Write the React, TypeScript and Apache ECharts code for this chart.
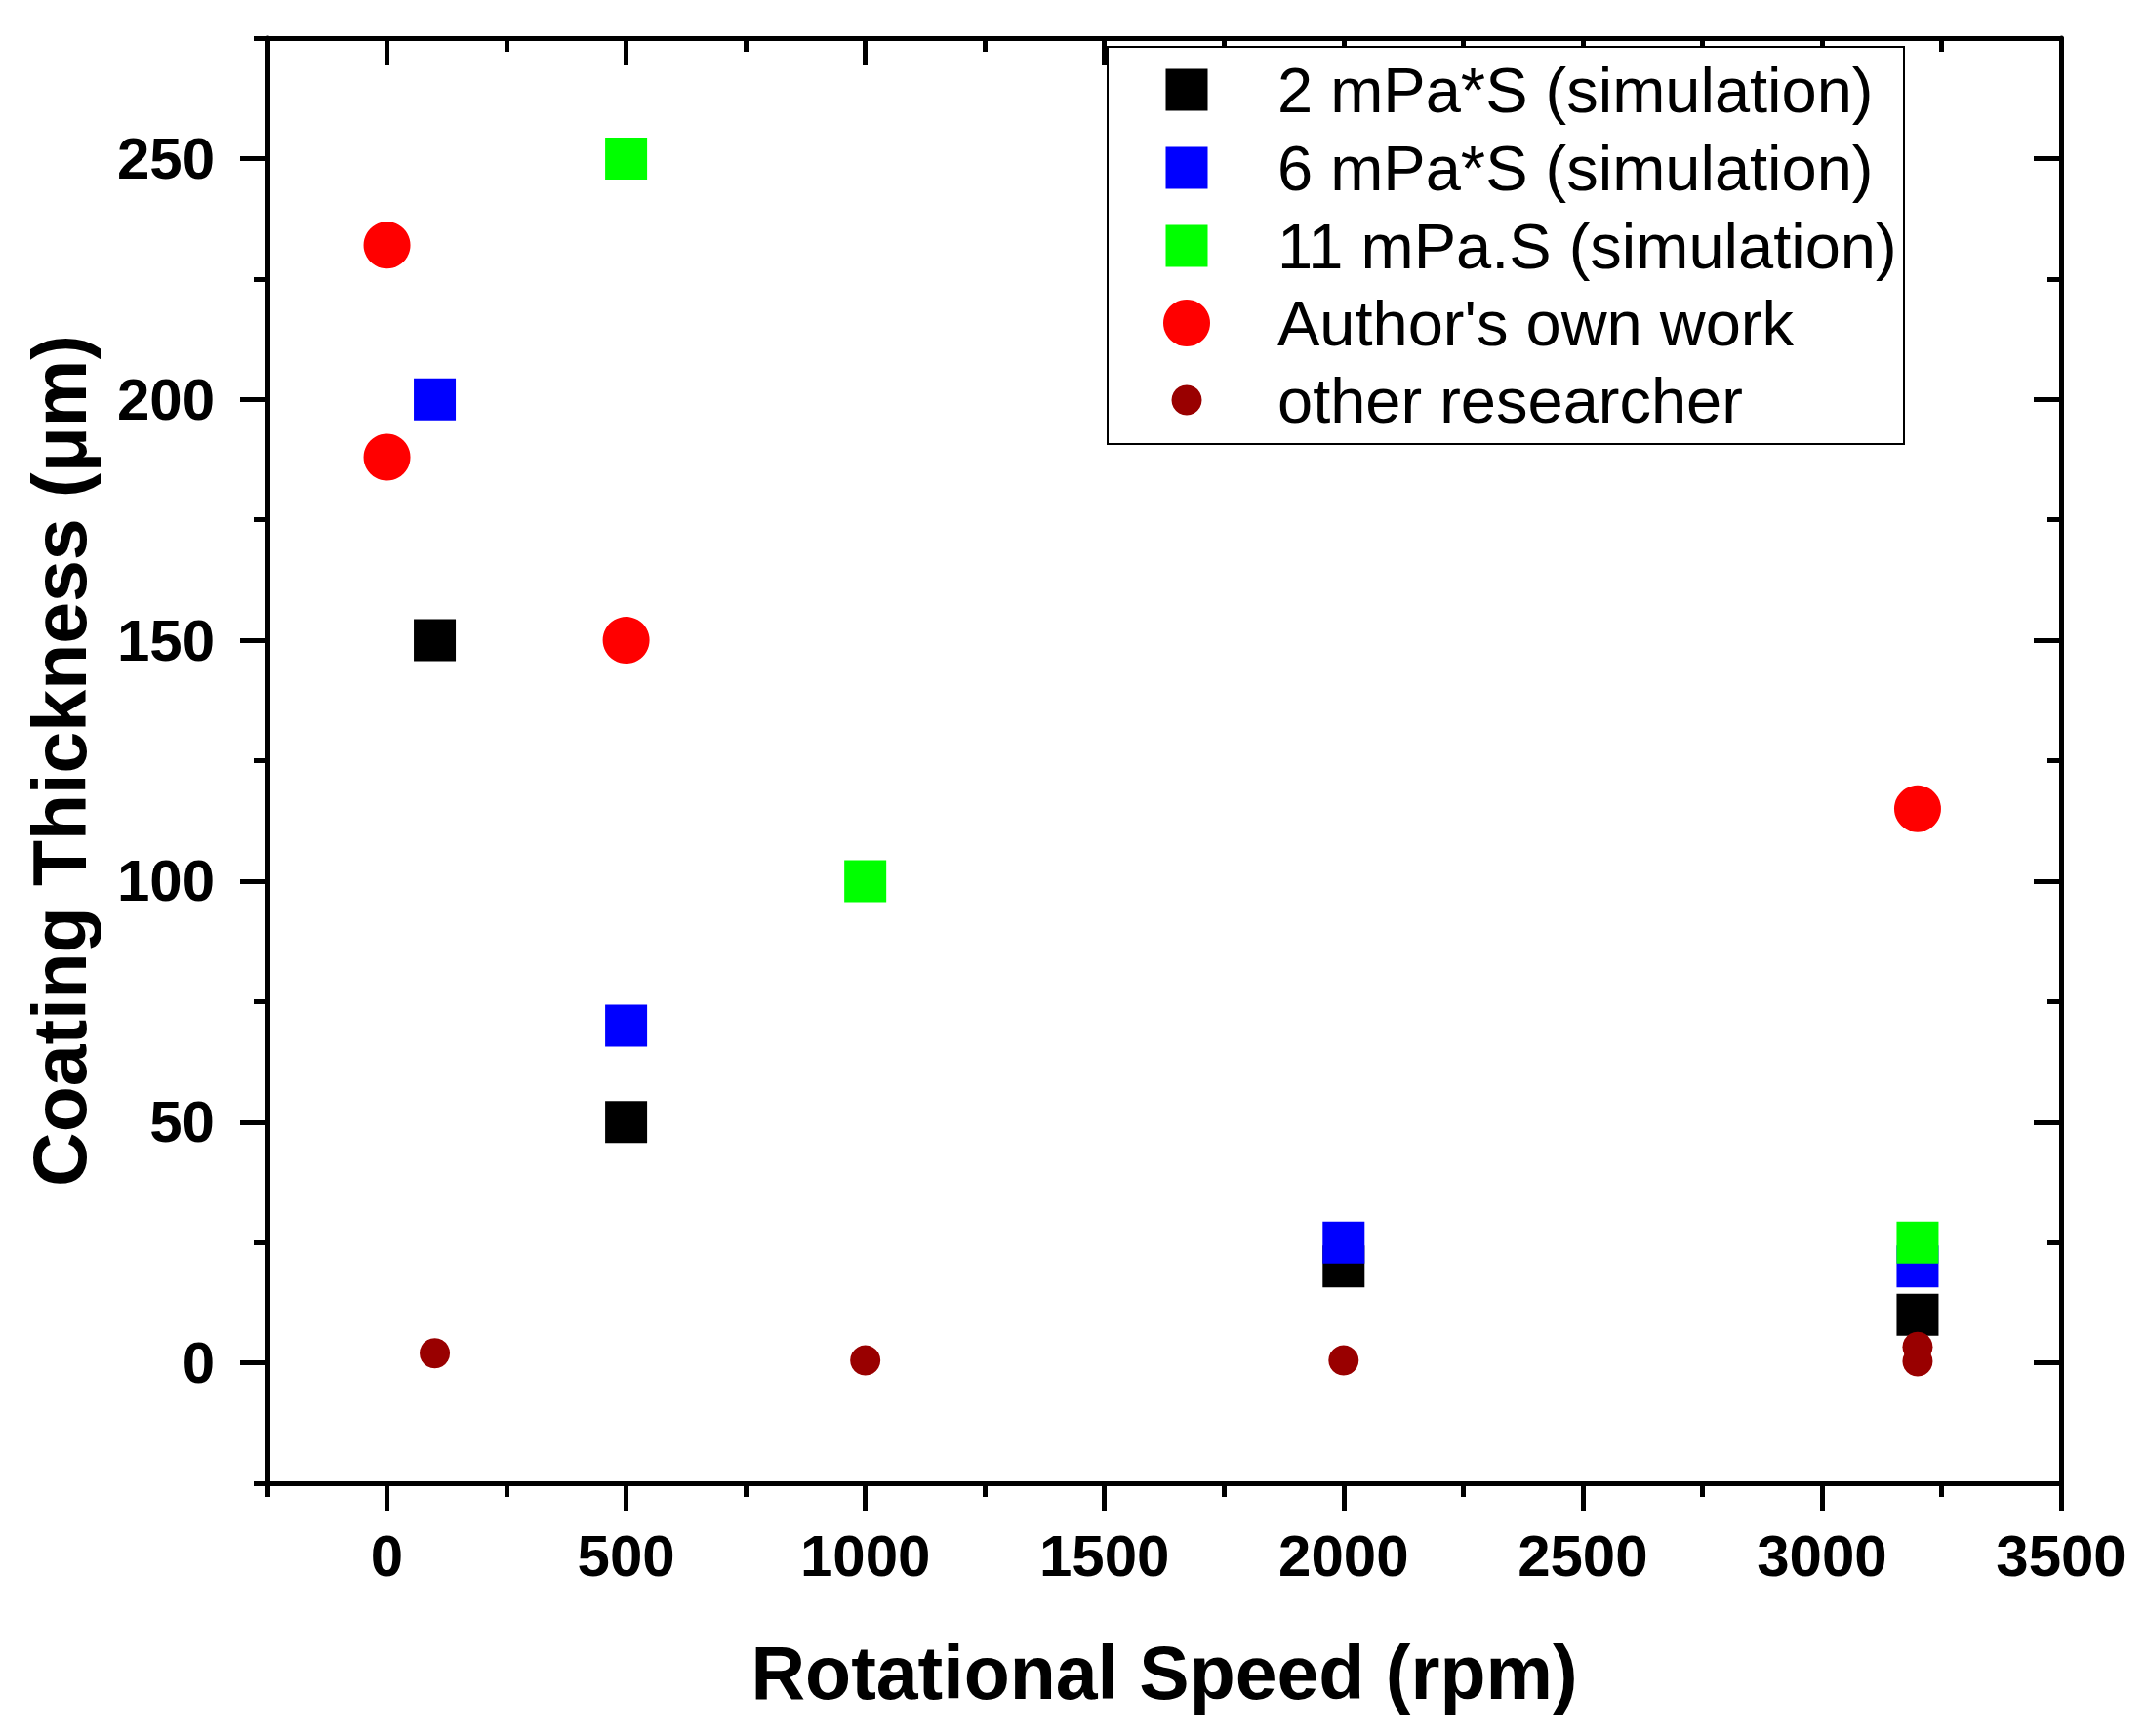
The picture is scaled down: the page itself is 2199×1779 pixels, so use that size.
import React, { useEffect, useRef } from 'react';
import * as echarts from 'echarts';

// axis ticks
const xMajor = [0, 500, 1000, 1500, 2000, 2500, 3000, 3500];
const xMinor = [-250, 250, 750, 1250, 1750, 2250, 2750, 3250];
const yMajor = [0, 50, 100, 150, 200, 250];
const yMinor = [-25, 25, 75, 125, 175, 225, 275];

// [rpm, thickness um]
const sim2 = [[100, 150], [500, 50], [2000, 20], [3200, 10]];
const sim6 = [[100, 200], [500, 70], [2000, 25], [3200, 20]];
const sim11 = [[500, 250], [1000, 100], [3200, 25]];
const ownWork = [[0, 232], [0, 188], [500, 150], [3200, 115]];
const otherWork = [[100, 2], [1000, 0.5], [2000, 0.5], [3200, 0.3], [3200, 3.3]];

const names = [
  '2 mPa*S (simulation)',
  '6 mPa*S (simulation)',
  '11 mPa.S (simulation)',
  "Author's own work",
  'other researcher',
];
const colors = ['#000000', '#0000ff', '#00ff00', '#ff0000', '#990000'];
const symbols = ['rect', 'rect', 'rect', 'circle', 'circle'];
const sizes = [43, 43, 43, 48, 31];

const FONT = 'Liberation Sans';

const App: React.FC = () => {
  const chartRef = useRef<HTMLDivElement | null>(null);

  useEffect(() => {
    if (!chartRef.current) return;
    const chart = echarts.init(chartRef.current, undefined, { renderer: 'svg' });

    const line = { color: '#000', width: 5 };
    const label = {
      fontFamily: FONT,
      fontWeight: 'bold' as const,
      fontSize: 60,
      color: '#000',
      formatter: (v: number) => String(v),
    };

    const xAxis = (pos: 'bottom' | 'top', major: boolean, extra: any = {}) => ({
      type: 'value',
      position: pos,
      min: -250,
      max: 3500,
      axisLine: { show: major, onZero: false, lineStyle: line },
      axisTick: {
        show: true,
        inside: pos === 'top',
        length: major ? 28 : 14,
        customValues: major ? xMajor : xMinor,
        lineStyle: line,
      },
      axisLabel: { show: false },
      splitLine: { show: false },
      ...extra,
    });

    const yAxis = (pos: 'left' | 'right', major: boolean, extra: any = {}) => ({
      type: 'value',
      position: pos,
      min: -25,
      max: 275,
      axisLine: { show: major, onZero: false, lineStyle: line },
      axisTick: {
        show: true,
        inside: pos === 'right',
        length: major ? 28 : 14,
        customValues: major ? yMajor : yMinor,
        lineStyle: line,
      },
      axisLabel: { show: false },
      splitLine: { show: false },
      ...extra,
    });

    const seriesData = [sim2, sim6, sim11, ownWork, otherWork];

    // legend rows (layout only)
    const rowCenters = [92, 172, 252, 331, 410];
    const iconX = 1216;
    const textX = 1309;
    const legends = names.map((name, i) => ({
      data: [name],
      left: iconX - sizes[i] / 2,
      top: rowCenters[i] - 33,
      padding: 0,
      itemWidth: sizes[i],
      itemHeight: sizes[i],
      icon: symbols[i],
      selectedMode: false,
      z: 20,
      textStyle: {
        fontFamily: FONT,
        fontSize: 65,
        color: '#000',
        lineHeight: 66,
        padding: [0, 0, 0, textX - (iconX + sizes[i] / 2 + 5)],
      },
    }));

    const option: any = {
      animation: false,
      backgroundColor: '#fff',
      grid: { left: 274, right: 87, top: 39, bottom: 259, containLabel: false },
      xAxis: [
        xAxis('bottom', true, {
          axisLabel: { show: true, customValues: xMajor, margin: 44, ...label },
          name: 'Rotational Speed (rpm)',
          nameLocation: 'middle',
          nameGap: 155,
          nameTextStyle: { fontFamily: FONT, fontWeight: 'bold', fontSize: 77, color: '#000' },
        }),
        xAxis('bottom', false),
        xAxis('top', true),
        xAxis('top', false),
      ],
      yAxis: [
        yAxis('left', true, {
          axisLabel: { show: true, customValues: yMajor, margin: 54, ...label },
          name: 'Coating Thickness (μm)',
          nameLocation: 'middle',
          nameGap: 175,
          nameTextStyle: { fontFamily: FONT, fontWeight: 'bold', fontSize: 77, color: '#000' },
        }),
        yAxis('left', false),
        yAxis('right', true),
        yAxis('right', false),
      ],
      legend: legends,
      graphic: [
        {
          type: 'rect',
          z: 10,
          shape: { x: 1135, y: 48, width: 816, height: 407 },
          style: { fill: '#fff', stroke: '#000', lineWidth: 2 },
        },
      ],
      series: names.map((name, i) => ({
        name,
        type: 'scatter',
        xAxisIndex: 0,
        yAxisIndex: 0,
        symbol: symbols[i],
        symbolSize: sizes[i],
        itemStyle: { color: colors[i], opacity: 1 },
        data: seriesData[i],
        z: 2 + i * 0.01,
      })),
    };

    chart.setOption(option);

    return () => {
      chart.dispose();
    };
  }, []);

  return (
    <div
      ref={chartRef}
      style={{ position: 'absolute', left: 0, top: 0, width: '2199px', height: '1779px' }}
    />
  );
};

export default App;
